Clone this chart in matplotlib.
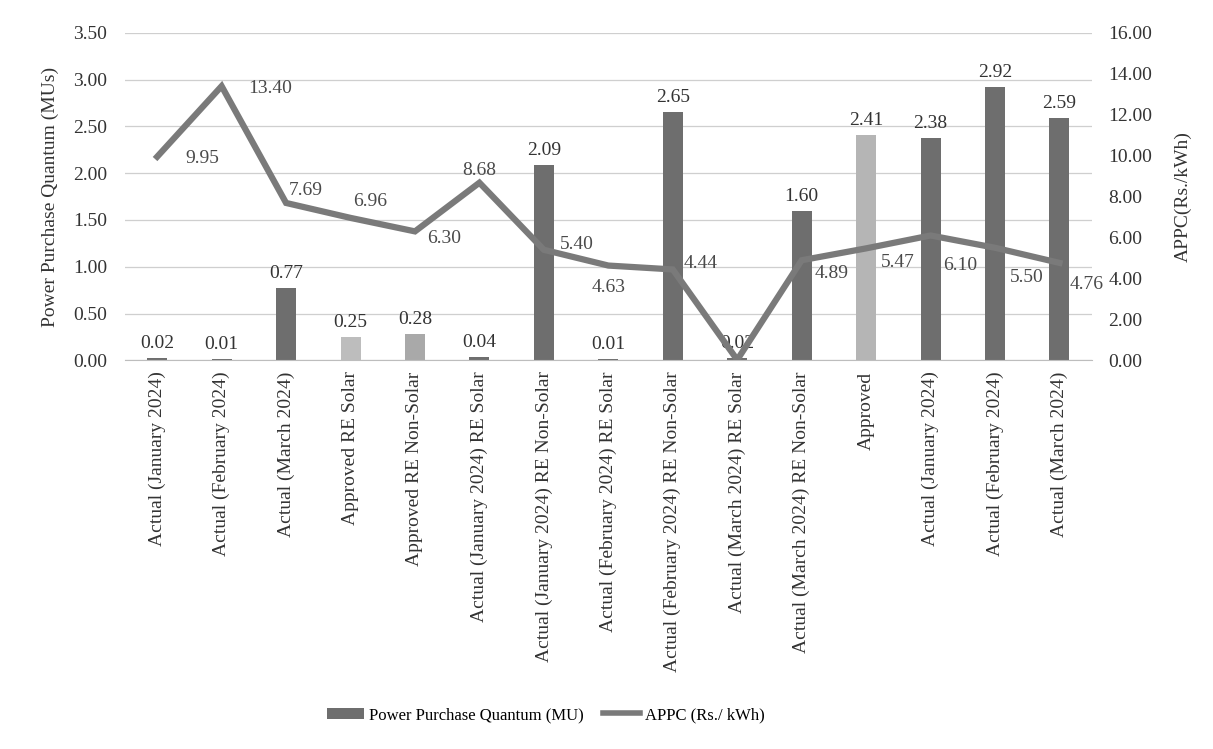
import matplotlib
matplotlib.use("Agg")
import matplotlib.pyplot as plt
from matplotlib.lines import Line2D
from matplotlib.patches import Patch

categories = [
    "Actual (January 2024)",
    "Actual (February 2024)",
    "Actual (March 2024)",
    "Approved RE Solar",
    "Approved RE Non-Solar",
    "Actual (January 2024) RE Solar",
    "Actual (January 2024) RE Non-Solar",
    "Actual (February 2024) RE Solar",
    "Actual (February 2024) RE Non-Solar",
    "Actual (March 2024) RE Solar",
    "Actual (March 2024) RE Non-Solar",
    "Approved",
    "Actual (January 2024)",
    "Actual (February 2024)",
    "Actual (March 2024)",
]
quantum_mu = [0.02, 0.01, 0.77, 0.25, 0.28, 0.04, 2.09, 0.01, 2.65, 0.02, 1.60, 2.41, 2.38, 2.92, 2.59]
appc = [9.95, 13.40, 7.69, 6.96, 6.30, 8.68, 5.40, 4.63, 4.44, 0.02, 4.89, 5.47, 6.10, 5.50, 4.76]

left_ticks = [0.0, 0.5, 1.0, 1.5, 2.0, 2.5, 3.0, 3.5]
right_ticks = [0, 2, 4, 6, 8, 10, 12, 14, 16]

# styles
dark = "#6e6e6e"
bar_colors = [dark, dark, dark, "#bdbdbd", "#a9a9a9", dark, dark, dark, dark, dark, dark, "#b5b5b5", dark, dark, dark]
# line-label offsets in pixels (None: label coincides with the bar label)
line_label_offsets = [(45, -2), (49, -2), (20, 12), (20, 16), (29, -7), (0, 12), (33, 5), (0, -22),
                      (28, 6), None, (30, -13), (32, -14), (30, -30), (32, -30), (27, -22)]

FS = 14
plt.rcParams["font.family"] = ["Liberation Serif", "DejaVu Serif"]
fig = plt.figure(figsize=(12.13, 7.49), dpi=100)
ax = fig.add_axes([0.103, 0.519, 0.797, 0.437])
ax2 = ax.twinx()

x = list(range(len(categories)))
ax.bar(x, quantum_mu, width=0.31, color=bar_colors, zorder=2)
for xi, v in zip(x, quantum_mu):
    ax.annotate(f"{v:.2f}", (xi, v), xytext=(0, 6), textcoords="offset pixels",
                ha="center", va="bottom", fontsize=FS, color="#333333")

ax2.plot(x, appc, color="#7a7a7a", lw=4.5, solid_joinstyle="miter", zorder=3)
for xi, v, off in zip(x, appc, line_label_offsets):
    if off is None:
        continue
    ax2.annotate(f"{v:.2f}", (xi, v), xytext=off, textcoords="offset pixels",
                 ha="center", va="center", fontsize=FS, color="#4a4a4a")

ax.set_xlim(-0.5, 14.5)
ax.set_ylim(0, 3.5)
ax2.set_ylim(0, 16)
ax.set_yticks(left_ticks)
ax.set_yticklabels([f"{t:.2f}" for t in left_ticks], fontsize=FS, color="#333333")
ax2.set_yticks(right_ticks)
ax2.set_yticklabels([f"{t:.2f}" for t in right_ticks], fontsize=FS, color="#333333")
ax.set_xticks(x)
ax.set_xticklabels(categories, rotation=90, fontsize=FS, color="#333333")

ax.grid(axis="y", color="#cfcfcf", lw=0.9, zorder=0)
ax.set_axisbelow(True)
for a in (ax, ax2):
    for s in a.spines.values():
        s.set_visible(False)
    a.tick_params(length=0)
ax.tick_params(axis="y", pad=13)
ax2.tick_params(axis="y", pad=12)
ax.tick_params(axis="x", pad=8)
ax.spines["bottom"].set_visible(True)
ax.spines["bottom"].set_color("#bdbdbd")

ax.set_ylabel("Power Purchase Quantum (MUs)", fontsize=FS, color="#333333", labelpad=10)
ax2.set_ylabel("APPC(Rs./kWh)", fontsize=FS, color="#333333", labelpad=16)

handles = [Patch(facecolor=dark, edgecolor="none"),
           Line2D([0], [0], color="#7a7a7a", lw=4)]
fig.legend(handles, ["Power Purchase Quantum (MU)", "APPC (Rs./ kWh)"],
           loc="center", bbox_to_anchor=(0.45, 0.045), ncol=2, frameon=False,
           fontsize=12, handlelength=2.2, handletextpad=0.3, columnspacing=1.2)

fig.savefig("out.png", dpi=100)
